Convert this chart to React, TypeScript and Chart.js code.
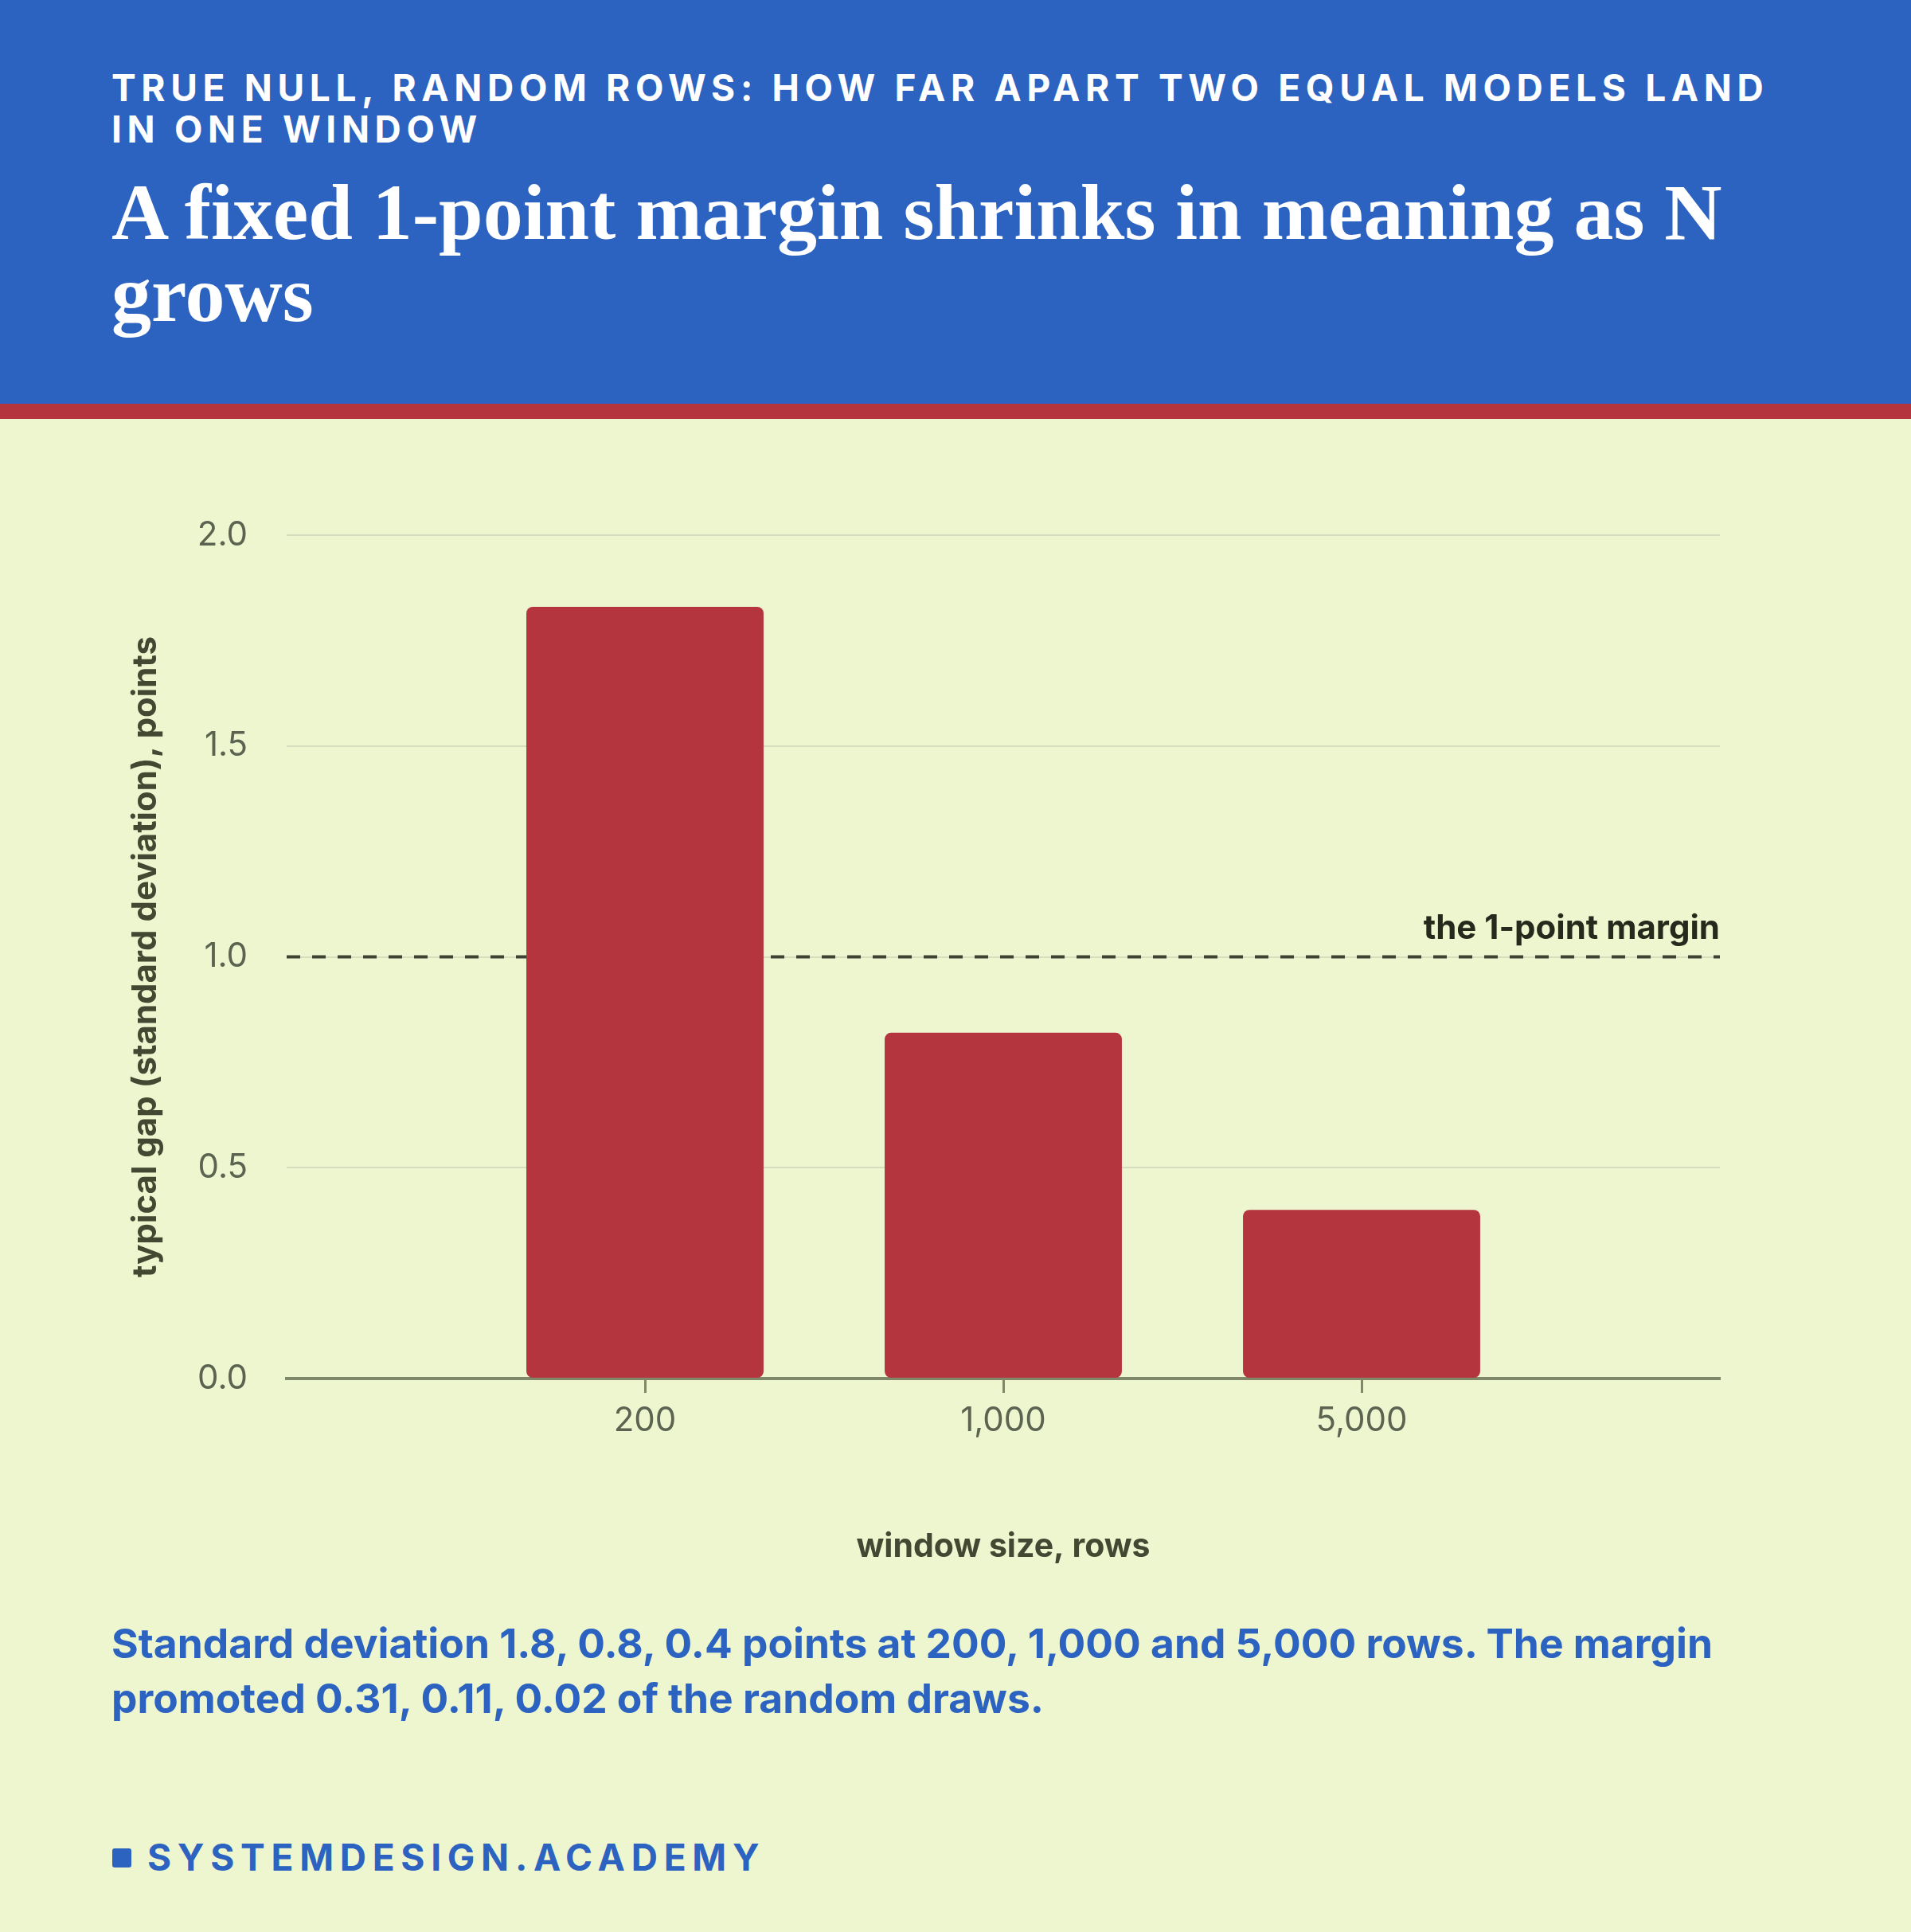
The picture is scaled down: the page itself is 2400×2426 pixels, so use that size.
import React, { useEffect, useRef } from 'react';
import { Chart, registerables } from 'chart.js';

Chart.register(...registerables);

// values
const windowSizes = ['200', '1,000', '5,000'];
const stdDevPoints = [1.83, 0.82, 0.4];
const marginPoints = 1;
const marginLabel = 'the 1-point margin';
const yTickValues = [0, 0.5, 1, 1.5, 2];

const BLUE = '#2c63c0';
const RED = '#b5353f';
const CREAM = '#eef6d0';
const INK = '#434833';
const TICK = '#5c6350';
const AXIS = '#7f8868';

const GapChart: React.FC = () => {
  const canvasRef = useRef<HTMLCanvasElement | null>(null);

  useEffect(() => {
    if (!canvasRef.current) return;

    // one empty slot on each side so the three sizes land on the quarter marks
    const labels = ['', ...windowSizes, ''];

    const marginText = {
      id: 'marginText',
      afterDatasetsDraw(chart: any) {
        const { ctx, chartArea, scales } = chart;
        const y = scales.y.getPixelForValue(marginPoints);
        ctx.save();
        ctx.font = '700 42px Inter';
        ctx.fillStyle = '#262a1c';
        ctx.textAlign = 'right';
        ctx.textBaseline = 'alphabetic';
        ctx.fillText(marginLabel, chartArea.right, y - 23);
        ctx.restore();
      },
    };

    const chart = new Chart(canvasRef.current, {
      type: 'bar',
      data: {
        labels,
        datasets: [
          {
            type: 'bar',
            data: [null, ...stdDevPoints, null],
            backgroundColor: RED,
            borderRadius: 8,
            borderSkipped: false,
            categoryPercentage: 1,
            barPercentage: 0.662,
            order: 0,
          },
          {
            type: 'line',
            data: labels.map(() => marginPoints),
            borderColor: '#3f4232',
            borderWidth: 4,
            borderDash: [17, 15],
            pointRadius: 0,
            fill: false,
            order: 1,
          },
        ],
      } as any,
      options: {
        animation: false,
        responsive: true,
        maintainAspectRatio: false,
        layout: { padding: { left: 141, right: 240, top: 146, bottom: 5 } },
        plugins: {
          legend: { display: false },
          tooltip: { enabled: false },
        },
        scales: {
          x: {
            offset: false,
            afterFit: (s: any) => {
              s.height = 240;
            },
            grid: {
              offset: false,
              drawOnChartArea: false,
              drawTicks: true,
              tickLength: 18,
              tickWidth: 3,
              tickColor: (c: any) => (labels[c.index] ? AXIS : 'transparent'),
            },
            border: { display: true, color: AXIS, width: 4 },
            ticks: {
              color: TICK,
              font: { family: 'Inter', size: 42 },
              padding: 10,
              maxRotation: 0,
              autoSkip: false,
            },
            title: {
              display: true,
              text: 'window size, rows',
              color: INK,
              font: { family: 'Inter', size: 41, weight: 'bold' },
              padding: { top: 0, bottom: 4 },
            },
          },
          y: {
            min: 0,
            max: 2,
            afterFit: (s: any) => {
              s.width = 219;
            },
            afterBuildTicks: (s: any) => {
              s.ticks = yTickValues.map((value) => ({ value }));
            },
            grid: {
              color: (c: any) => (c.tick && c.tick.value === 0 ? 'transparent' : '#d6ddbf'),
              lineWidth: 2,
              drawTicks: false,
            },
            border: { display: false },
            ticks: {
              color: TICK,
              font: { family: 'Inter', size: 42 },
              padding: 49,
              callback: (v: any) => Number(v).toFixed(1),
            },
            title: {
              display: true,
              text: 'typical gap (standard deviation), points',
              color: INK,
              font: { family: 'Inter', size: 42, weight: 'bold' },
              padding: { top: 17, bottom: 0 },
            },
          },
        },
      },
      plugins: [marginText],
    });

    return () => {
      chart.destroy();
    };
  }, []);

  return (
    <div style={{ position: 'absolute', left: 0, top: 526, width: 2400, height: 1450 }}>
      <canvas ref={canvasRef}></canvas>
    </div>
  );
};

const App: React.FC = () => {
  return (
    <div
      style={{
        position: 'relative',
        width: 2400,
        height: 2426,
        background: CREAM,
        overflow: 'hidden',
        fontFamily: 'Inter, sans-serif',
      }}
    >
      <style>{'body{margin:0}'}</style>
      <div style={{ position: 'absolute', left: 0, top: 0, width: 2400, height: 507, background: BLUE }} />
      <div style={{ position: 'absolute', left: 0, top: 507, width: 2400, height: 19, background: RED }} />
      <div
        style={{
          position: 'absolute',
          left: 140,
          top: 84,
          width: 2130,
          color: '#ffffff',
          fontWeight: 700,
          fontSize: 46,
          lineHeight: '52px',
          letterSpacing: '0.145em',
        }}
      >
        TRUE NULL, RANDOM ROWS: HOW FAR APART TWO EQUAL MODELS LAND IN ONE WINDOW
      </div>
      <div
        style={{
          position: 'absolute',
          left: 140,
          top: 215,
          width: 2118,
          color: '#ffffff',
          fontFamily: '"Liberation Serif", serif',
          fontWeight: 700,
          fontSize: 100,
          lineHeight: '103px',
        }}
      >
        A fixed 1-point margin shrinks in meaning as N grows
      </div>

      <GapChart />

      <div
        style={{
          position: 'absolute',
          left: 140,
          top: 2029,
          width: 2118,
          color: BLUE,
          fontWeight: 700,
          fontSize: 51.5,
          lineHeight: '69px',
        }}
      >
        Standard deviation 1.8, 0.8, 0.4 points at 200, 1,000 and 5,000 rows. The margin promoted 0.31, 0.11, 0.02
        of the random draws.
      </div>

      <div
        style={{
          position: 'absolute',
          left: 141,
          top: 2321,
          width: 24,
          height: 24,
          borderRadius: 3,
          background: BLUE,
        }}
      />
      <div
        style={{
          position: 'absolute',
          left: 185,
          top: 2306,
          color: BLUE,
          fontWeight: 700,
          fontSize: 46,
          lineHeight: '52px',
          letterSpacing: '0.168em',
          whiteSpace: 'nowrap',
        }}
      >
        SYSTEMDESIGN.ACADEMY
      </div>
    </div>
  );
};

export default App;
